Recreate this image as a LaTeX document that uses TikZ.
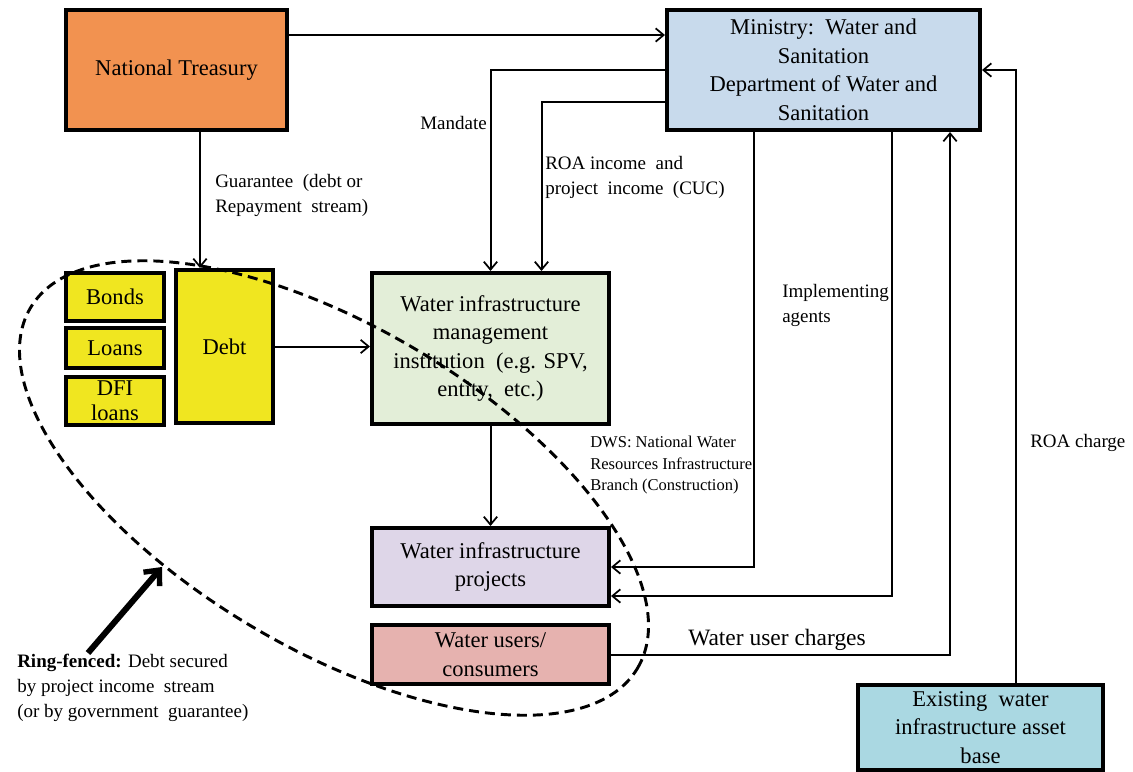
\documentclass[tikz,border=0pt]{standalone}
\usepackage{fontspec}
\setmainfont{Liberation Serif}
\usetikzlibrary{arrows.meta,shapes.geometric}
\definecolor{ntorange}{RGB}{242,146,80}
\definecolor{minblue}{RGB}{200,218,236}
\definecolor{debtyellow}{RGB}{240,230,32}
\definecolor{wimigreen}{RGB}{227,238,216}
\definecolor{projlav}{RGB}{222,214,232}
\definecolor{userpink}{RGB}{230,178,175}
\definecolor{existcyan}{RGB}{170,216,226}
\tikzset{
  box/.style={draw, line width=3pt, inner sep=0pt, align=center,
    font=\fontsize{16.9}{21.4}\selectfont},
  arr/.style={line width=1.5pt, -{Straight Barb[length=6pt,width=10pt,line width=1.3pt]}},
  lbl/.style={inner sep=0pt, align=left, font=\fontsize{14.25}{18.75}\selectfont},
  smalllbl/.style={inner sep=0pt, align=left, font=\fontsize{12.4}{16}\selectfont},
  ring/.style={draw, ellipse, line width=2.2pt, dash pattern=on 7.5pt off 4.5pt, inner sep=0pt}
}
\begin{document}
\begin{tikzpicture}[x=0.75pt, y=-0.75pt]
\useasboundingbox (0,0) rectangle (1133,772);
\fill[white] (0,0) rectangle (1133,772);

% boxes
\node[box, fill=ntorange, minimum width=165.75pt, minimum height=90pt] (NT) at (176.5,70) {National Treasury};
\node[box, fill=minblue, minimum width=234.75pt, minimum height=90pt] (Min) at (823.5,70) {Ministry:\ \ Water and\\Sanitation\\Department of Water and\\Sanitation};
\node[box, fill=debtyellow, minimum width=73.5pt, minimum height=36pt] (Bonds) at (115,297) {Bonds};
\node[box, fill=debtyellow, minimum width=73.5pt, minimum height=30pt] (Loans) at (115,348) {Loans};
\node[box, fill=debtyellow, minimum width=73.5pt, minimum height=36pt, font=\fontsize{16.9}{18.75}\selectfont] (DFI) at (115,401) {DFI\\loans};
\node[box, fill=debtyellow, minimum width=72.75pt, minimum height=114.75pt] (Debt) at (224.5,346.5) {Debt};
\node[box, fill=wimigreen, minimum width=177.75pt, minimum height=113.25pt] (WIMI) at (490.5,348.5) {Water infrastructure\\management\\institution\ \ (e.g. SPV,\\entity,\ \ etc.)};
\node[box, fill=projlav, minimum width=177.75pt, minimum height=58.5pt] (Proj) at (490.5,567) {Water infrastructure\\projects};
\node[box, fill=userpink, minimum width=177.75pt, minimum height=44.25pt] (Users) at (490.5,654.5) {Water users/\\consumers};
\node[box, fill=existcyan, minimum width=183.75pt, minimum height=63.75pt] (Exist) at (980.5,727.5) {Existing\ \ water\\infrastructure asset\\base};

% ring-fence ellipse
\node[ring, minimum width=529.5pt, minimum height=241.5pt, rotate=-30.7] (Ring) at (334,488) {};

% connectors
\draw[arr] ([yshift=26.25pt]NT.east) -- ([yshift=26.25pt]Min.west);
\draw[arr] (Min.west) -| (WIMI.north);
\draw[arr] ([yshift=-24pt]Min.west) -| ([xshift=38.25pt]WIMI.north);
\draw[arr] ([xshift=17.6pt]NT.south) -- ([xshift=17.6pt]NT.south |- Debt.north);
\draw[arr] (Debt.east) -- (WIMI.west |- Debt.east);
\draw[arr] (WIMI.south) -- (Proj.north);
\draw[arr] ([xshift=-52.1pt]Min.south) |- (Proj.east);
\draw[arr] ([xshift=51.4pt]Min.south) |- ([yshift=-21.75pt]Proj.east);
\draw[arr] (Users.east) -| ([xshift=94.9pt]Min.south);
\draw[arr] ([xshift=26.6pt]Exist.north) |- (Min.east);

% labels
\node[lbl, anchor=north west] (lGuar) at (215,174) {Guarantee\ \ (debt or\\Repayment\ \ stream)};
\node[lbl, anchor=west] (lMand) at (420,123) {Mandate};
\node[lbl, anchor=north west] (lROA) at (545,156) {ROA income\ \ and\\project\ \ income\ \ (CUC)};
\node[lbl, anchor=north west] (lImpl) at (782,284) {Implementing\\agents};
\node[smalllbl, anchor=north west] (lDWS) at (590,436) {DWS: National Water\\Resources Infrastructure\\Branch (Construction)};
\node[lbl, anchor=west] (lROAc) at (1030,443) {ROA charge};
\node[lbl, anchor=west, font=\fontsize{17.6}{21}\selectfont] (lWUC) at (688,640) {Water user charges};
\node[lbl, anchor=north west] (lRing) at (17,654) {\textbf{Ring-fenced:} Debt secured\\by project income\ \ stream\\(or by government\ \ guarantee)};

% ring-fenced pointer
\coordinate (rfTail) at (88,653);
\coordinate (rfTip) at (162,567);
\draw[line width=4.5pt, -{Straight Barb[length=9pt,width=16pt,line width=4pt]}] (rfTail) -- (rfTip);
\end{tikzpicture}
\end{document}
